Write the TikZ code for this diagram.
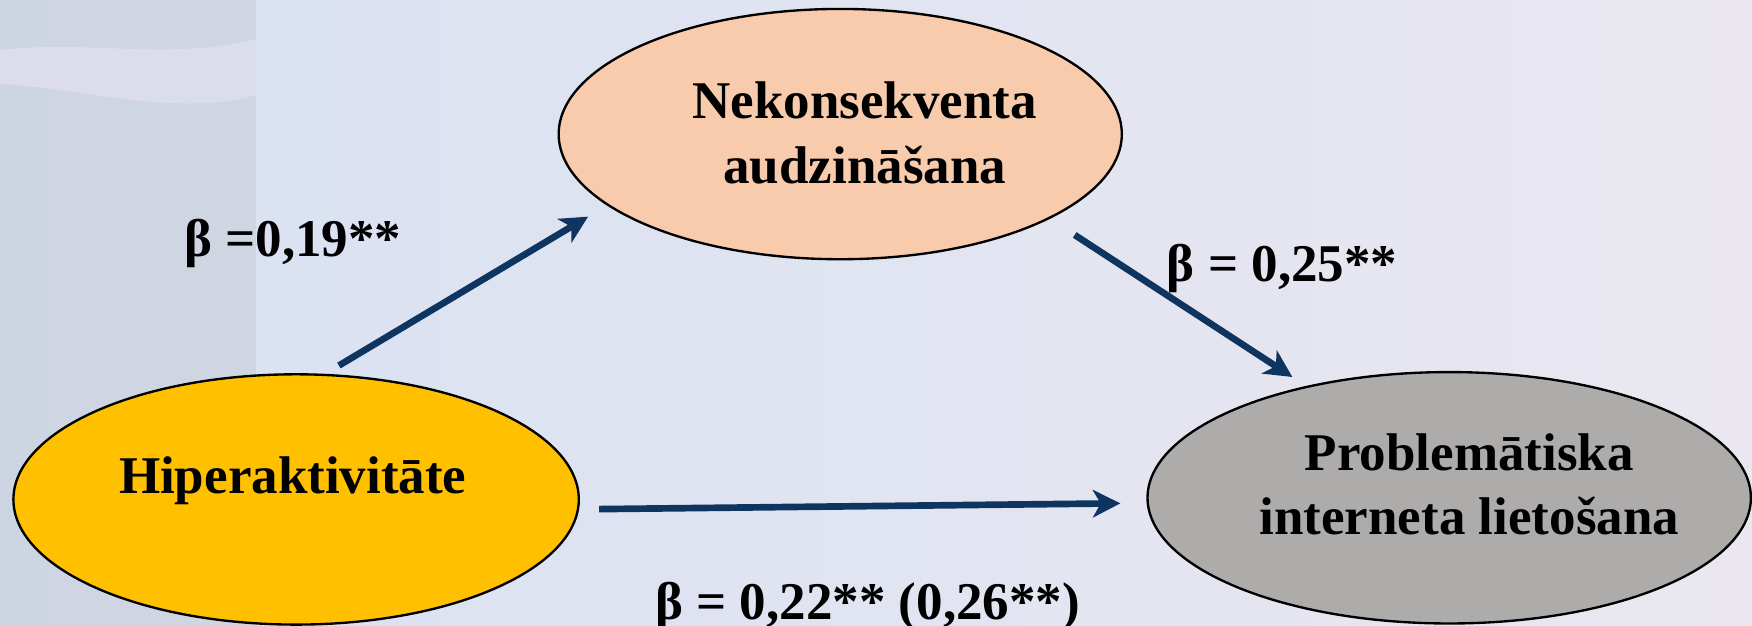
\documentclass[tikz,border=0pt]{standalone}
\usepackage{fontspec}
\setmainfont{Liberation Serif}
\usetikzlibrary{shapes.geometric,arrows.meta}

\definecolor{hypcolor}{HTML}{FFC000}
\definecolor{nekcolor}{HTML}{F8CBAD}
\definecolor{probcolor}{HTML}{AEABAB}
\definecolor{arrcolor}{HTML}{0E355F}
\definecolor{bgleft}{HTML}{D8E1F2}
\definecolor{bgright}{HTML}{EAE7F0}
\definecolor{keycolor}{HTML}{CBD1DC}
\definecolor{stripcolor}{HTML}{E6E2F2}

\begin{document}
\begin{tikzpicture}[
  state/.style={ellipse, draw=black, line width=0.6pt, inner sep=0pt},
  word/.style={font=\fontsize{13.5}{16.5}\selectfont\bfseries, align=center},
  link/.style={draw=arrcolor, line width=1.7pt, -{Stealth[length=7pt,width=7pt,inset=2pt]}}
]
% background
\shade[left color=bgleft, right color=bgright] (0,0) rectangle (15.68,5.60);
\fill[keycolor, opacity=0.7] (0,0) rectangle (2.29,5.60);
\fill[stripcolor, opacity=0.6] (0,4.85) .. controls (0.8,4.80) and (1.6,4.55) .. (2.29,4.75) -- (2.29,5.25) .. controls (1.5,5.05) and (0.8,5.25) .. (0,5.15) -- cycle;
\useasboundingbox (0,0) rectangle (15.68,5.60);

% ellipses
\node[state, fill=hypcolor, minimum width=5.06cm, minimum height=2.24cm] (hyp) at (2.65,1.13) {};
\node[state, fill=nekcolor, minimum width=5.04cm, minimum height=2.24cm] (nek) at (7.52,4.40) {};
\node[state, fill=probcolor, minimum width=5.40cm, minimum height=2.25cm] (prob) at (12.97,1.145) {};

\node[word] (hyp-t) at (2.62,1.30) {Hiperaktivitāte};
\node[word] (nek-t) at (7.74,4.41) {Nekonsekventa\\audzināšana};
\node[word] (prob-t) at (13.15,1.265) {Problemātiska\\interneta lietošana};

% paths
\draw[link, shorten <=0.144cm, shorten >=0.196cm] (hyp.77) -- (nek.197);
\draw[link, shorten <=0.264cm, shorten >=0.147cm] (nek.338) -- (prob.142);
\draw[link, shorten <=0.18cm, shorten >=0.235cm] (hyp.-2.5) -- (prob.181.5);

% coefficients
\node[word] (b1) at (2.62,3.42) {β =0,19**};
\node[word] (b2) at (11.475,3.20) {β = 0,25**};
\node[word] (b3) at (7.765,0.17) {β = 0,22** (0,26**)};
\end{tikzpicture}
\end{document}
